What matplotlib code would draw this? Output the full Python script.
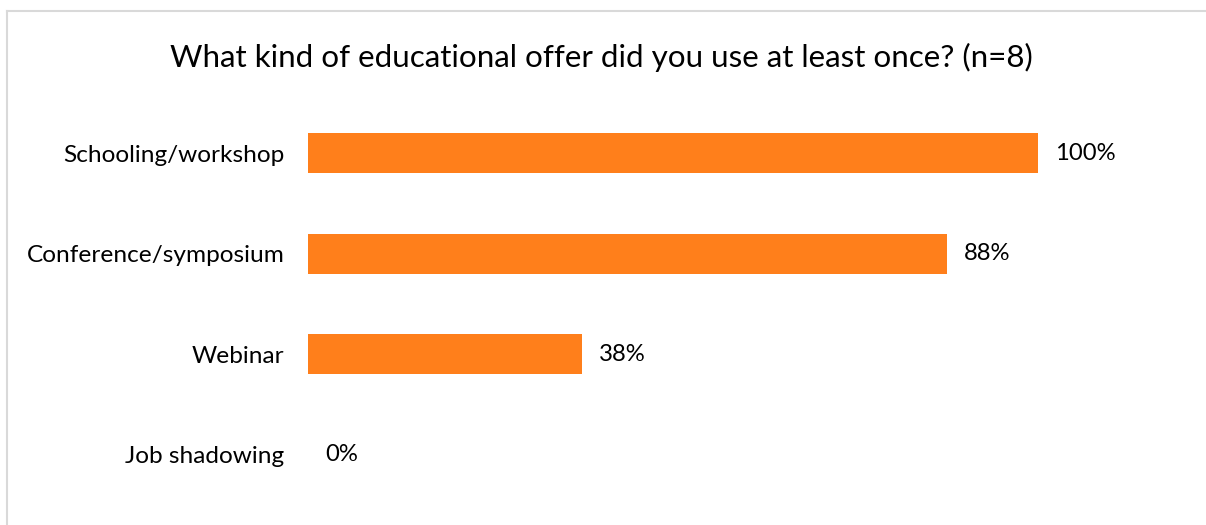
import matplotlib
matplotlib.use("Agg")
import matplotlib.pyplot as plt
from matplotlib.lines import Line2D

categories = ["Schooling/workshop", "Conference/symposium", "Webinar", "Job shadowing"]
values = [1.0, 0.875, 0.375, 0.0]
value_labels = ["100%", "88%", "38%", "0%"]
title = "What kind of educational offer did you use at least once? (n=8)"

W, H = 1206, 525
fig = plt.figure(figsize=(W / 100, H / 100), dpi=100)
plt.rcParams['font.family'] = ['Lato', 'DejaVu Sans']

# axes: x 0..1 maps to 308..1038 px ; categories centred at 153,253.5,354,454.5 px
ax_left, ax_right = 308, 1038
ax_top, ax_bot = 103, 505
ax = fig.add_axes([ax_left / W, 1 - ax_bot / H, (ax_right - ax_left) / W, (ax_bot - ax_top) / H])
bar_color = "#FF7F1B"
y = list(range(len(categories)))
ax.barh(y, values, height=0.4, color=bar_color)
ax.set_xlim(0, 1)
ax.set_ylim(len(categories) - 0.5, -0.5)
for s in ax.spines.values():
    s.set_visible(False)
ax.set_xticks([])
ax.set_yticks(y)
ax.set_yticklabels(categories, fontsize=17.6, color="#000000")
ax.tick_params(axis="y", length=0, pad=17)

for yi, v, lab in zip(y, values, value_labels):
    ax.annotate(lab, xy=(v, yi), xytext=(17, 0), textcoords="offset pixels",
                ha="left", va="center", fontsize=17.2, color="#000000", annotation_clip=False)

fig.text(601 / W, 1 - 57 / H, title, ha="center", va="center", fontsize=22.6, color="#000000")

# chart border (left and top edges visible)
border_color = "#D9D9D9"
fig.add_artist(Line2D([7 / W, 7 / W], [0, 1 - 11 / H], transform=fig.transFigure, color=border_color, lw=1.5))
fig.add_artist(Line2D([7 / W, 1], [1 - 11 / H, 1 - 11 / H], transform=fig.transFigure, color=border_color, lw=1.5))

fig.savefig("out.png", dpi=100, facecolor="white")
